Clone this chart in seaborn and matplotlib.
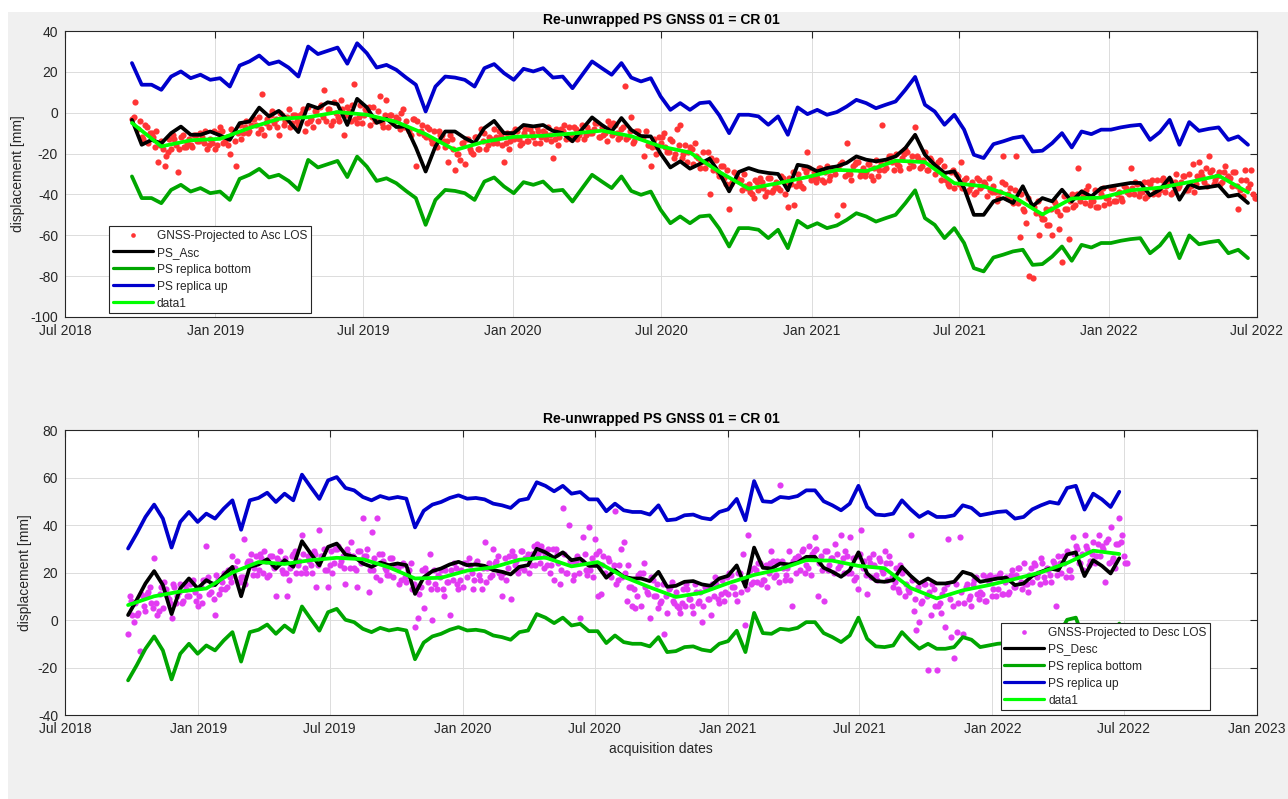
import pandas as pd
import seaborn as sns
import matplotlib.pyplot as plt
import matplotlib.dates as mdates
from matplotlib.patches import Rectangle

asc_start = '2018-09-21'
desc_start = '2018-09-26'

# ---------------- ascending panel ----------------
ps_asc = [
    -3.5, -15.7, -13.3, -15, -10, -6.8, -10.8, -10.8, -9.2, -11.1,
    -13.3, -5.1, -4.3, 2.5, -1.8, 0.9, -4, -9.5, 3.9, 2.2,
    5.1, 4.2, -6, 6.8, 2.6, -5, -3, -7, -6.7, -17,
    -28.8, -16.5, -9.2, -9.2, -12.4, -14.9, -7.5, -4, -10, -10,
    -6, -6.7, -6, -8.9, -10, -14, -8, -2.3, -6, -9.2,
    -2.6, -8.4, -11.5, -11.6, -20, -26.8, -23.8, -27.4, -25.1, -22.5,
    -29.5, -38.5, -29, -27.1, -28.7, -29.5, -30, -38, -25.5, -26.3,
    -28.7, -27.1, -26.3, -24.6, -21.4, -23, -23.8, -23, -21.4, -17.3,
    -10.8, -20.6, -25.5, -29.5, -28.7, -36.9, -50, -50, -43.4, -41.8,
    -44.2, -36, -45.8, -41.8, -43.4, -37.7, -43.4, -38.5, -41, -36.9,
    -36, -35.2, -34.4, -34.4, -40.5, -37.7, -31.7, -42.6, -34.9, -36.9,
    -36.4, -35.6, -41, -40.1, -44.2]

asc_up = [
    24.3, 13.7, 13.7, 11.2, 17.7, 20.2, 16.9, 18.6, 16.1, 16.9,
    12.8, 23.1, 25.1, 28, 23.8, 25.1, 22.1, 17.7, 32.4, 28.7,
    30.3, 31.9, 24, 34, 29.1, 22.1, 23.4, 21, 17.2, 13.7,
    0.6, 12.8, 17.7, 17.2, 16.1, 12.8, 21.8, 23.8, 19.4, 16.1,
    21.5, 20.2, 21.8, 17.2, 17.7, 12, 18.6, 25.1, 21.8, 18.6,
    24.3, 17.2, 15.3, 16.9, 8, 1.4, 4.7, 1.4, 4.7, 5.2,
    -1.3, -10, -1, -1, -1.8, -5.9, -1.8, -10.8, 2.6, -0.7,
    1.4, -1, 0.3, 3, 6.3, 4.7, 2.2, 3.9, 5.5, 11.2,
    17.5, 3.9, 0.6, -5.9, -1, -8.3, -20.6, -22.2, -15.4, -14,
    -12.4, -11.6, -19, -18.6, -14.9, -10, -17, -9.2, -10.5, -8.3,
    -8.3, -7.2, -6.4, -5.9, -13.3, -9.5, -3.5, -15.7, -4.6, -8.9,
    -7.9, -7.2, -13.3, -11.6, -15.7]

asc_bottom = [
    -31.2, -41.8, -41.8, -44.3, -37.8, -35.3, -38.6, -36.9, -39.4, -38.6,
    -42.7, -32.4, -30.4, -27.5, -31.7, -30.4, -33.4, -37.8, -23.1, -26.8,
    -25.2, -23.6, -31.5, -21.5, -26.4, -33.4, -32.1, -34.5, -38.3, -41.8,
    -54.9, -42.7, -37.8, -38.3, -39.4, -42.7, -33.7, -31.7, -36.1, -39.4,
    -34, -35.3, -33.7, -38.3, -37.8, -43.5, -36.9, -30.4, -33.7, -36.9,
    -31.2, -38.3, -40.2, -38.6, -47.5, -54.1, -50.8, -54.1, -50.8, -50.3,
    -56.8, -65.5, -56.5, -56.5, -57.3, -61.4, -57.3, -66.3, -52.9, -56.2,
    -54.1, -56.5, -55.2, -52.5, -49.2, -50.8, -53.3, -51.6, -50, -44.3,
    -38, -51.6, -54.9, -61.4, -56.5, -63.8, -76.1, -77.7, -70.9, -69.5,
    -67.9, -67.1, -74.5, -74.1, -70.4, -65.5, -72.5, -64.7, -66, -63.8,
    -63.8, -62.7, -61.9, -61.4, -68.8, -65, -59, -71.2, -60.1, -64.4,
    -63.4, -62.7, -68.8, -67.1, -71.2]

# smooth fit, one value every 36 days
asc_fit = [
    -5, -16.5, -13.5, -12.8, -7.5, -3, -2.2, 0.3, -1, -4.5,
    -10.5, -18.3, -14.2, -11.8, -11.3, -10.2, -8.8, -11.5, -16.5, -19.5,
    -29, -37.2, -34.5, -31.5, -28, -28.6, -23.5, -24.2, -34.5, -36,
    -41, -49.8, -42, -41.6, -38, -36.7, -34, -30.8, -39]

# GNSS, days 0, 4, 8, ...
gnss_asc = [
    -3, 5, -8, -12, -6, -15, -10, -17, -24, -14, -26, -19,
    -18, -13, -29, -12, -17, -15, -16, -11, -14, -10, -15, -18,
    -13, -9, -16, -7, -15, -12, -20, -9, -26, -6, -10, -4,
    -9, -3, -6, -2, 9, -5, -7, 1, -3, -11, -1, -4,
    2, -5, -1, -6, 0, -9, 3, -3, 1, -4, 4, 11,
    2, -6, 5, -2, 6, -11, 3, -4, 14, -5, 4, -1,
    1, -6, 3, -3, 8, -7, 6, -1, -5, -2, -8, 2,
    -4, -9, -3, -26, -10, -6, -12, -8, -15, -14, -9, -11,
    -17, -24, -13, -28, -20, -15, -25, -13, -19, -12, -18, -8,
    -10, -16, -13, -8, -15, -11, -24, -10, -14, -13, -9, -16,
    -10, -14, -8, -12, -7, -15, -9, -13, -11, -22, -8, -12,
    -9, -13, -7, -12, -8, -11, -6, -11, -9, -10, -5, -12,
    -7, -10, -4, -11, -6, -13, -8, 13, -12, -2, -14, -9,
    -12, -21, -16, -26, -13, -17, -15, -10, -19, -13, -22, -8,
    -6, -20, -24, -17, -25, -21, -27, -19, -24, -40, -28, -23,
    -31, -26, -35, -47, -34, -30, -33, -38, -36, -35, -40, -33,
    -38, -34, -41, -32, -39, -36, -37, -31, -40, -46, -35, -45,
    -30, -36, -27, -19, -33, -29, -32, -27, -34, -26, -31, -28,
    -50, -25, -45, -15, -30, -26, -24, -31, -27, -29, -25, -33,
    -23, -28, -6, -27, -21, -24, -20, -26, -22, -18, -27, -21,
    -7, -22, -26, -19, -28, -23, -30, -24, -33, -26, -35, -29,
    -37, -31, -24, -33, -39, -36, -40, -32, -37, -34, -41, -38,
    -36, -43, -39, -21, -42, -37, -44, -21, -61, -47, -54, -80,
    -81, -49, -60, -52, -47, -55, -60, -44, -57, -73, -47, -62,
    -40, -45, -27, -39, -44, -36, -43, -38, -46, -40, -45, -42,
    -37, -43, -40, -42, -36, -39, -27, -40, -35, -39, -34, -41,
    -35, -40, -33, -38, -32, -36, -33, -39, -30, -36, -31, -38,
    -30, -25, -35, -24, -31, -27, -21, -28, -33, -29, -34, -26,
    -31, -36, -29, -47, -33, -28, -37, -28, -42]

# GNSS, days 2, 6, 10, ...
gnss_asc_mid = [
    -2, -8, -4, -13, -7, -10, -12, -9, -16, -18, -21, -13,
    -11, -16, -18, -11, -17, -13, -17, -11, -14, -12, -9, -16,
    -15, -18, -10, -9, -14, -16, -8, -14, -10, -13, -7, -10,
    -6, -3, -10, -8, -11, -3, -1, -5, -7, 0, -6, -2,
    -7, -1, -4, -1, 2, -5, -4, -7, 1, 3, -2, -4,
    2, -4, 0, -4, 2, -1, 1, 4, -3, -2, -5, 2,
    3, -2, -4, 1, -5, -1, -7, -1, -4, -3, 0, -7,
    -8, -11, -3, -4, -9, -11, -7, -13, -9, -17, -11, -14,
    -14, -11, -18, -20, -23, -15, -13, -18, -20, -12, -18, -14,
    -18, -12, -15, -12, -9, -16, -15, -18, -10, -8, -13, -15,
    -8, -14, -10, -15, -9, -12, -10, -7, -14, -13, -16, -8,
    -6, -11, -13, -7, -13, -9, -13, -7, -10, -8, -5, -12,
    -11, -14, -6, -5, -10, -12, -7, -13, -9, -15, -9, -12,
    -12, -9, -16, -17, -20, -12, -12, -17, -19, -14, -20, -16,
    -22, -16, -19, -18, -15, -22, -24, -27, -19, -22, -27, -29,
    -26, -32, -28, -35, -29, -32, -33, -30, -37, -39, -42, -34,
    -32, -37, -39, -32, -38, -34, -38, -32, -35, -32, -29, -36,
    -34, -37, -29, -27, -32, -34, -27, -33, -29, -33, -27, -30,
    -27, -24, -31, -30, -33, -25, -24, -29, -31, -25, -31, -27,
    -31, -25, -28, -24, -21, -28, -25, -28, -20, -19, -24, -26,
    -21, -27, -23, -28, -22, -25, -26, -23, -30, -33, -36, -28,
    -30, -35, -37, -32, -38, -34, -39, -33, -36, -35, -32, -39,
    -39, -42, -34, -35, -40, -42, -38, -44, -40, -48, -42, -45,
    -46, -43, -50, -52, -55, -47, -43, -48, -50, -41, -47, -43,
    -46, -40, -43, -41, -38, -45, -43, -46, -38, -37, -42, -44,
    -37, -43, -39, -43, -37, -40, -37, -34, -41, -39, -42, -34,
    -33, -38, -40, -33, -39, -35, -40, -34, -37, -34, -31, -38,
    -36, -39, -31, -29, -34, -36, -29, -35, -31, -35, -29, -32,
    -32, -29, -36, -38, -41, -33, -35, -40, -42]

# ---------------- descending panel ----------------
ps_desc = [
    2.1, 8.5, 15.4, 20.6, 14.7, 2.5, 13.3, 17.5, 13.3, 16.8,
    14.7, 18.9, 22.4, 10, 22.4, 23.4, 25.6, 21.7, 25.2, 22.4,
    33.2, 28, 23, 30.8, 32.2, 27.6, 26.6, 23.8, 22.4, 24.2,
    23.1, 23.8, 23.1, 11, 18, 20.6, 21.7, 23.4, 24.5, 23.1,
    23.4, 22.8, 21, 20.3, 19.2, 22.4, 23.1, 30, 28.5, 26.2,
    28.5, 25.2, 25.9, 22.8, 22.8, 17.8, 21, 18.2, 17.5, 17.5,
    16.4, 20.3, 14, 14.4, 16.1, 16.4, 15, 14.4, 17.5, 18.6,
    23, 14, 30.5, 22, 21.7, 23.8, 23.4, 24.2, 26.6, 26.6,
    22, 20.3, 18.2, 21, 28.5, 19.6, 16.4, 16.1, 16.8, 22.4,
    18.6, 15.4, 17.5, 15.4, 15.4, 16.1, 20.3, 19.2, 16.1, 16.8,
    17.5, 17.8, 14.7, 15.4, 18.6, 20.3, 21.7, 21, 27.6, 28.5,
    18.5, 25.2, 22.8, 19.6, 26]

desc_up = [
    30.1, 36.5, 43.4, 48.6, 42.7, 30.5, 41.3, 45.5, 41.3, 44.8,
    42.7, 46.9, 50.4, 38, 50.4, 51.4, 53.6, 49.7, 53.2, 50.4,
    61.2, 56, 51, 58.8, 60.2, 55.6, 54.6, 51.8, 50.4, 52.2,
    51.1, 51.8, 51.1, 39, 46, 48.6, 49.7, 51.4, 52.5, 51.1,
    51.4, 50.8, 49, 48.3, 47.2, 50.4, 51.1, 58, 56.5, 54.2,
    56.5, 53.2, 53.9, 50.8, 50.8, 45.8, 49, 46.2, 45.5, 45.5,
    44.4, 48.3, 42, 42.4, 44.1, 44.4, 43, 42.4, 45.5, 46.6,
    51, 42, 58.5, 50, 49.7, 51.8, 51.4, 52.2, 54.6, 54.6,
    50, 48.3, 46.2, 49, 56.5, 47.6, 44.4, 44.1, 44.8, 50.4,
    46.6, 43.4, 45.5, 43.4, 43.4, 44.1, 48.3, 47.2, 44.1, 44.8,
    45.5, 45.8, 42.7, 43.4, 46.6, 48.3, 49.7, 49, 55.6, 56.5,
    46.5, 53.2, 50.8, 47.6, 54]

desc_bottom = [
    -25.4, -19, -12.1, -6.9, -12.8, -25, -14.2, -10, -14.2, -10.7,
    -12.8, -8.6, -5.1, -17.5, -5.1, -4.1, -1.9, -5.8, -2.3, -5.1,
    5.7, 0.5, -4.5, 3.3, 4.7, 0.1, -0.9, -3.7, -5.1, -3.3,
    -4.4, -3.7, -4.4, -16.5, -9.5, -6.9, -5.8, -4.1, -3, -4.4,
    -4.1, -4.7, -6.5, -7.2, -8.3, -5.1, -4.4, 2.5, 1, -1.3,
    1, -2.3, -1.6, -4.7, -4.7, -9.7, -6.5, -9.3, -10, -10,
    -11.1, -7.2, -13.5, -13.1, -11.4, -11.1, -12.5, -13.1, -10, -8.9,
    -4.5, -13.5, 3, -5.5, -5.8, -3.7, -4.1, -3.3, -0.9, -0.9,
    -5.5, -7.2, -9.3, -6.5, 1, -7.9, -11.1, -11.4, -10.7, -5.1,
    -8.9, -12.1, -10, -12.1, -12.1, -11.4, -7.2, -8.3, -11.4, -10.7,
    -10, -9.7, -12.8, -12.1, -8.9, -7.2, -5.8, -6.5, 0.1, 1,
    -9, -2.3, -4.7, -7.9, -1.5]

desc_fit = [
    6.3, 10, 12, 13.3, 20, 24.4, 23.6, 25.2, 26.2, 25.6,
    22.2, 17.5, 17.8, 20.8, 22.2, 25.4, 26.3, 22.6, 24.4, 18.2,
    13.8, 9.7, 11.5, 15.5, 19, 21.4, 25.2, 25, 22.8, 21.8,
    13.5, 9.1, 12.5, 14.7, 17.3, 20.1, 24, 29.2, 27.8]

gnss_desc = [
    -6, 8, -1, 2, -13, 10, 4, 12, 7, 26, 2, 11,
    5, 13, 9, 1, 14, 10, 15, 8, 13, 10, 16, 12,
    6, 14, 17, 31, 11, 15, 2, 17, 13, 20, 14, 18,
    27, 22, 16, 18, 34, 24, 25, 19, 27, 21, 26, 29,
    18, 27, 23, 10, 25, 21, 26, 10, 22, 28, 20, 25,
    36, 22, 27, 23, 29, 14, 38, 27, 21, 14, 29, 24,
    30, 23, 27, 15, 28, 33, 22, 14, 29, 43, 27, 12,
    37, 26, 43, 17, 25, 21, 19, 26, 23, 22, 17, 24,
    16, 21, 13, -3, 1, 14, 5, 20, 28, 0, 15, 19,
    21, 10, 16, 2, 17, 22, 13, 21, 24, 18, 23, 13,
    24, 19, 13, 33, 22, 18, 30, 25, 20, 10, 26, 22,
    9, 27, 25, 22, 29, 26, 28, 23, 31, 32, 24, 29,
    27, 30, 23, 17, 28, 15, 47, 20, 40, 25, 19, 27,
    1, 35, 21, 39, 26, 34, 10, 11, 27, 19, 25, 21,
    46, 17, 30, 33, 8, 14, 6, 5, 19, 6, 24, 12,
    1, 17, 10, 5, 8, -6, 3, 14, 8, 12, 5, 7,
    6, 13, 9, 3, 12, 8, -1, 14, 9, 2, 10, 15,
    7, 17, 12, 11, 19, 14, 8, 20, 28, -2, 36, 15,
    22, 16, 24, 17, 23, 20, 29, 18, 25, 57, 22, 19,
    29, 6, 26, 27, 21, 30, 23, 31, 28, 35, 10, 27,
    8, 29, 23, 26, 32, 22, 36, 20, 27, 35, 26, 18,
    13, 38, 25, 11, 24, 28, 19, 26, 21, 29, 17, 24,
    14, 22, 12, 20, 10, 13, 36, 4, -4, -1, 8, 15,
    -21, 2, 13, -21, 7, 11, -3, 34, -7, -16, -5, 35,
    -6, 14, 9, 6, 17, 11, 12, 19, 8, 16, 10, 18,
    13, 20, 11, 18, 12, 21, 14, 22, 16, 24, 15, 19,
    16, 23, 20, 26, 18, 22, 19, 25, 6, 27, 20, 24,
    29, 21, 35, 31, 24, 28, 36, 30, 25, 33, 27, 36,
    31, 16, 34, 39, 26, 32, 43, 36, 24]

gnss_desc_mid = [
    10, 2, 7, 3, 11, 6, 11, 14, 5, 7, 4, 14,
    16, 10, 7, 15, 7, 12, 7, 15, 10, 15, 17, 8,
    10, 7, 17, 18, 12, 9, 19, 11, 16, 13, 21, 16,
    22, 25, 16, 18, 15, 25, 28, 22, 19, 28, 20, 25,
    19, 27, 22, 26, 29, 20, 20, 17, 27, 29, 23, 20,
    28, 20, 25, 20, 28, 23, 27, 30, 21, 23, 20, 30,
    31, 25, 22, 30, 22, 27, 21, 29, 24, 27, 30, 21,
    21, 18, 28, 28, 22, 19, 26, 18, 23, 15, 23, 18,
    21, 24, 15, 14, 11, 21, 22, 16, 13, 21, 13, 18,
    13, 21, 16, 21, 24, 15, 17, 14, 24, 26, 20, 17,
    25, 17, 22, 16, 24, 19, 24, 27, 18, 20, 17, 27,
    29, 23, 20, 29, 21, 26, 20, 28, 23, 28, 31, 22,
    23, 20, 30, 30, 24, 21, 28, 20, 25, 17, 25, 20,
    25, 28, 19, 21, 18, 28, 29, 23, 20, 26, 18, 23,
    15, 23, 18, 20, 23, 14, 13, 10, 20, 20, 14, 11,
    18, 10, 15, 7, 15, 10, 13, 16, 7, 6, 3, 13,
    15, 9, 6, 15, 7, 12, 6, 14, 9, 15, 18, 9,
    11, 8, 18, 20, 14, 11, 20, 12, 17, 13, 21, 16,
    21, 24, 15, 17, 14, 24, 25, 19, 16, 25, 17, 22,
    17, 25, 20, 26, 29, 20, 22, 19, 29, 30, 24, 21,
    29, 21, 26, 20, 28, 23, 26, 29, 20, 20, 17, 27,
    28, 22, 19, 26, 18, 23, 17, 25, 20, 24, 27, 18,
    16, 13, 23, 21, 15, 12, 17, 9, 14, 7, 15, 10,
    12, 15, 6, 6, 3, 13, 15, 9, 6, 15, 7, 12,
    7, 15, 10, 15, 18, 9, 11, 8, 18, 19, 13, 10,
    19, 11, 16, 11, 19, 14, 19, 22, 13, 15, 12, 22,
    24, 18, 15, 24, 16, 21, 16, 24, 19, 24, 27, 18,
    21, 18, 28, 30, 24, 21, 31, 23, 28, 24, 32, 27,
    30, 33, 24, 25, 22, 32, 33, 27, 24]

TITLE = 'Re-unwrapped PS GNSS 01 = CR 01'
AXIS_COL = '#262626'

sns.set_style('whitegrid')
plt.rcParams['font.family'] = ['Liberation Sans', 'DejaVu Sans']
plt.rcParams['axes.unicode_minus'] = False

fig = plt.figure(figsize=(12.88, 7.99), dpi=100, facecolor='#f0f0f0')
# thin white margin at the top / left like the original window capture
fig.add_artist(Rectangle((0, 1 - 12 / 799), 1, 12 / 799, transform=fig.transFigure,
                         facecolor='white', edgecolor='none', zorder=-5))
fig.add_artist(Rectangle((0, 0), 8 / 1288, 1, transform=fig.transFigure,
                         facecolor='white', edgecolor='none', zorder=-5))

ax1 = fig.add_axes([0.0505, 0.6033, 0.9254, 0.3579])
ax2 = fig.add_axes([0.0505, 0.1051, 0.9254, 0.3567])


def draw_panel(ax, start, gnss, gnss_mid, ps, up, bottom, fit, dot_col, gnss_lab, ps_lab):
    t0 = pd.Timestamp(start)
    d_even = pd.date_range(t0, periods=len(gnss), freq='4D')
    d_odd = pd.date_range(t0 + pd.Timedelta(days=2), periods=len(gnss_mid), freq='4D')
    gx = list(d_even) + list(d_odd)
    gy = gnss + gnss_mid
    d12 = pd.date_range(t0, periods=len(ps), freq='12D')
    d36 = pd.date_range(t0, periods=len(fit), freq='36D')

    sns.scatterplot(x=gx, y=gy, ax=ax, color=dot_col, s=20, linewidth=0,
                    label=gnss_lab, zorder=2)
    kw = dict(ax=ax, lw=2.7, estimator=None, sort=False, errorbar=None)
    sns.lineplot(x=d12, y=ps, color='black', label=ps_lab, zorder=3, **kw)
    sns.lineplot(x=d12, y=bottom, color='#00a600', label='PS replica bottom', zorder=3, **kw)
    sns.lineplot(x=d12, y=up, color='#0000cc', label='PS replica up', zorder=3, **kw)
    sns.lineplot(x=d36, y=fit, color='#00ff00', label='data1', zorder=4, **kw)

    ax.set_facecolor('white')
    ax.grid(True, color='#dcdcdc', lw=0.7)
    ax.xaxis.set_major_locator(mdates.MonthLocator(bymonth=[1, 7]))
    ax.xaxis.set_major_formatter(mdates.DateFormatter('%b %Y'))
    ax.tick_params(direction='in', top=True, right=True, length=5, width=0.8,
                   labelsize=10, colors=AXIS_COL, pad=5)
    for sp in ax.spines.values():
        sp.set_visible(True)
        sp.set_color(AXIS_COL)
        sp.set_linewidth(0.8)
    ax.set_title(TITLE, fontsize=10, fontweight='bold', color='black', pad=5)
    ax.set_ylabel('displacement [mm]', fontsize=10, color=AXIS_COL, labelpad=4)


def add_legend(ax, anchor):
    leg = ax.legend(loc='lower left', bbox_to_anchor=anchor, fontsize=8.6, frameon=True,
                    fancybox=False, edgecolor=AXIS_COL, framealpha=1, handlelength=3.35,
                    borderpad=0.3, labelspacing=0.42, handletextpad=0.35,
                    borderaxespad=0, markerscale=0.75)
    leg.get_frame().set_linewidth(0.8)
    for ln in leg.get_lines():
        ln.set_linewidth(2.3)


draw_panel(ax1, asc_start, gnss_asc, gnss_asc_mid, ps_asc, asc_up, asc_bottom, asc_fit,
           '#ff3535', 'GNSS-Projected to Asc LOS', 'PS_Asc')
ax1.set_xlim(pd.Timestamp('2018-07-01'), pd.Timestamp('2022-07-01'))
ax1.set_ylim(-100, 40)
ax1.set_yticks(range(-100, 41, 20))
ax1.set_xlabel('')
add_legend(ax1, (0.037, 0.013))

draw_panel(ax2, desc_start, gnss_desc, gnss_desc_mid, ps_desc, desc_up, desc_bottom, desc_fit,
           '#e23cf2', 'GNSS-Projected to Desc LOS', 'PS_Desc')
ax2.set_xlim(pd.Timestamp('2018-07-01'), pd.Timestamp('2023-01-01'))
ax2.set_ylim(-40, 80)
ax2.set_yticks(range(-40, 81, 20))
ax2.set_xlabel('acquisition dates', fontsize=10, color=AXIS_COL, labelpad=4)
add_legend(ax2, (0.785, 0.017))

fig.savefig('out.png', dpi=100, facecolor=fig.get_facecolor())
